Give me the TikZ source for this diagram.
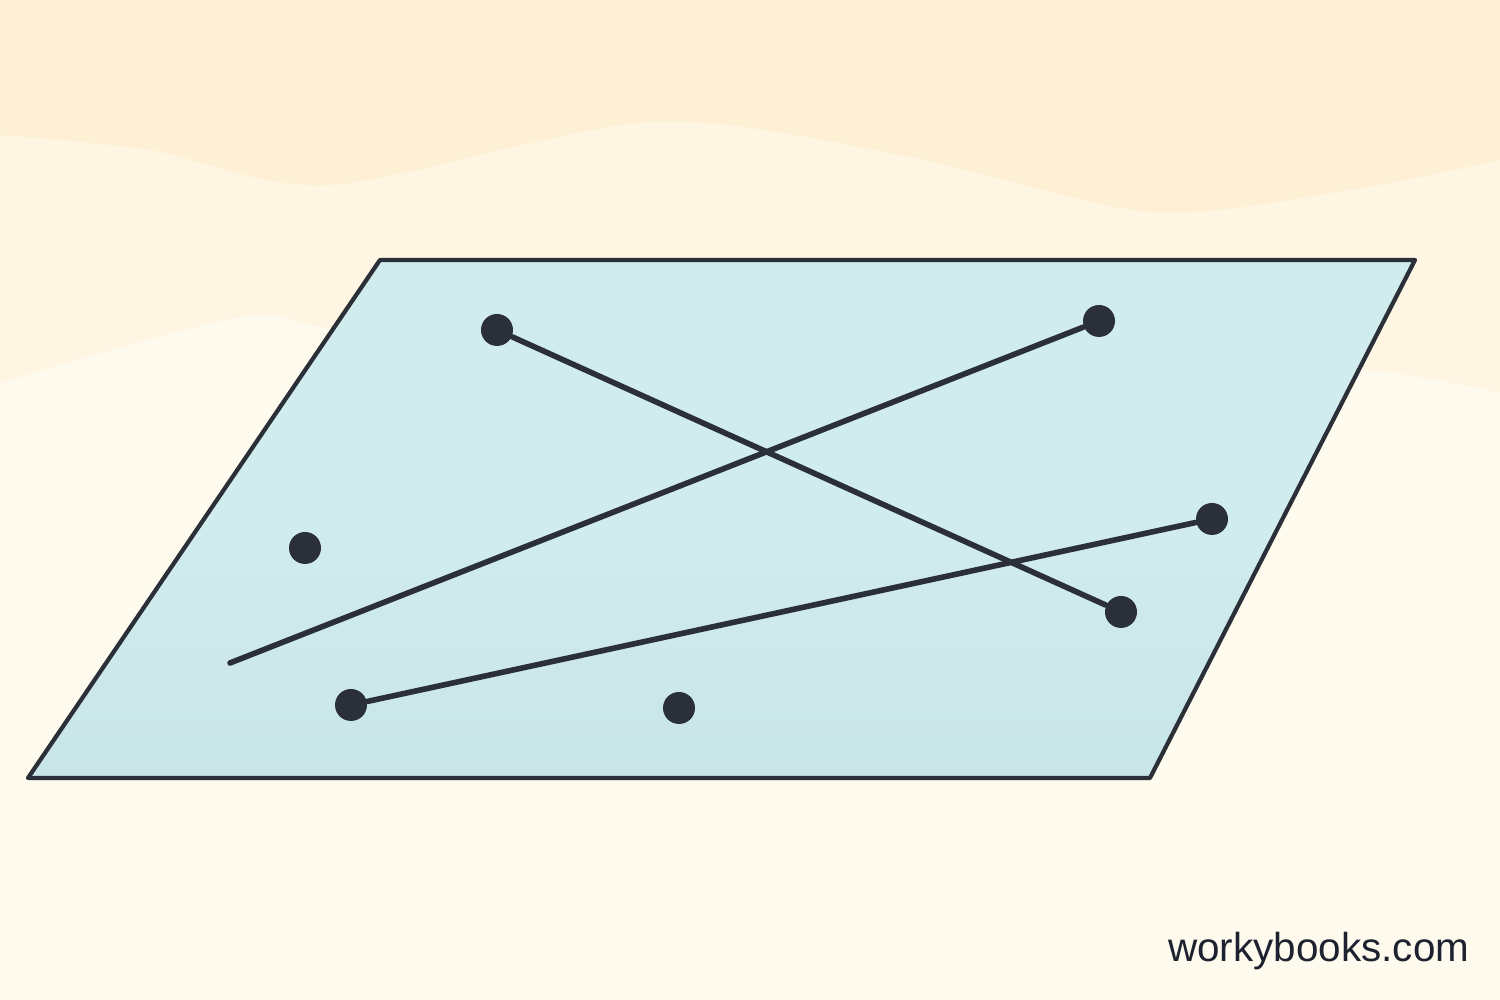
\documentclass[tikz,border=0pt]{standalone}
\usepackage{fontspec}
\setmainfont{Liberation Sans}
\usetikzlibrary{positioning}
\definecolor{peach}{RGB}{254, 240, 212}
\definecolor{peachlight}{RGB}{254, 245, 226}
\definecolor{cream}{RGB}{254, 250, 237}
\definecolor{planetop}{RGB}{209, 236, 237}
\definecolor{planebottom}{RGB}{200, 229, 232}
\definecolor{ink}{RGB}{43, 48, 56}
\definecolor{brandink}{RGB}{30, 34, 48}
\tikzset{%
    spot/.style={circle, fill=ink, inner sep=0, minimum size=3.2mm},
    segment/.style={draw=ink, line width=1.6pt, line cap=round},
    plane/.style={top color=planetop, bottom color=planebottom,
        middle color=planetop, draw=ink, line width=1.2pt,
        line join=round}
}

\begin{document}
\begin{tikzpicture}

    \useasboundingbox (0, 0) rectangle (15, 10);

    % Background
    \fill[cream] (0, 0) rectangle (15, 10);
    \fill[peachlight] (0, 10) -- plot[smooth] coordinates {(0, 6.17)
        (2.4, 6.83) (3.4, 6.70) (7, 6.2) (11, 6.4) (13.67, 6.30)
        (15, 6.07)} -- (15, 10) -- cycle;
    \fill[peach] (0, 10) -- plot[smooth] coordinates {(0, 8.65)
        (1.5, 8.50) (3.3, 8.15) (6.5, 8.78) (9, 8.45) (11.5, 7.88)
        (13.5, 8.10) (15, 8.40)} -- (15, 10) -- cycle;

    % Plane
    \path[plane] (3.80, 7.40) -- (14.15, 7.40) -- (11.50, 2.22)
        -- (0.28, 2.22) -- cycle;

    % Points
    \node[spot] (pa) at (4.97, 6.70) {};
    \node[spot] (pb) at (10.99, 6.79) {};
    \node[spot] (pc) at (3.05, 4.52) {};
    \node[spot] (pd) at (12.12, 4.81) {};
    \node[spot] (pe) at (11.21, 3.88) {};
    \node[spot] (pf) at (3.51, 2.95) {};
    \node[spot] (pg) at (6.79, 2.92) {};
    \coordinate (tail) at (2.30, 3.37);

    % Segments
    \draw[segment] (pa) -- (pe);
    \draw[segment] (pb) -- (tail);
    \draw[segment] (pf) -- (pd);

    % Brand
    \node[anchor=base east, text=brandink, inner sep=0,
        font=\fontsize{11.5}{14}\selectfont] (brand) at (14.70, 0.38)
        {workybooks.com};

\end{tikzpicture}
\end{document}
